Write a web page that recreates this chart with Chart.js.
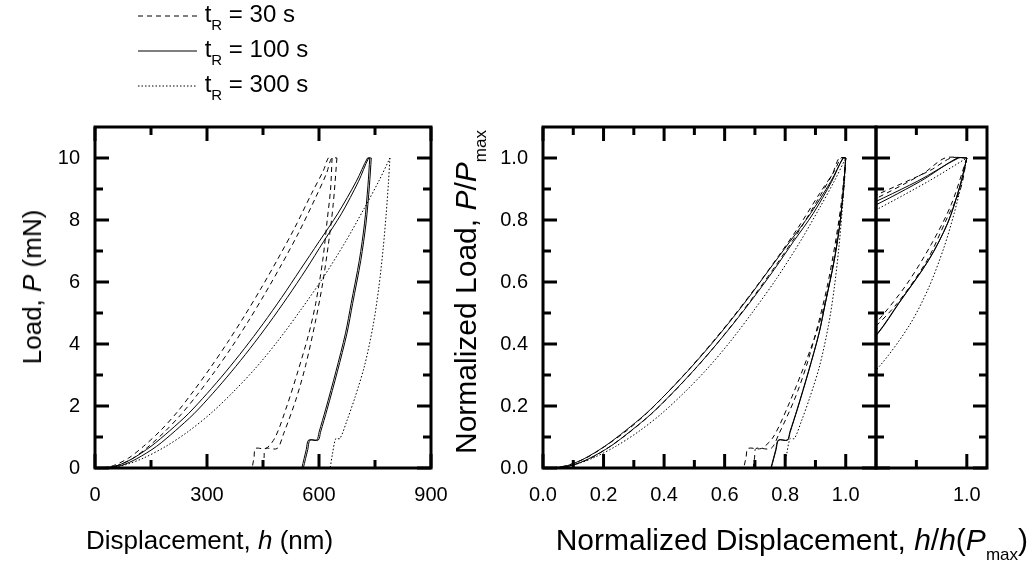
<!DOCTYPE html>
<html>
<head>
<meta charset="utf-8">
<script src="https://cdn.jsdelivr.net/npm/chart.js@4.4.0/dist/chart.umd.min.js"></script>
<style>
  body { margin: 0; background: #fff; width: 1034px; height: 564px; position: relative; overflow: hidden;
         font-family: "Liberation Sans", Arial, sans-serif; color: #000; }
  canvas { position: absolute; left: 0; top: 0; }
  .t { position: absolute; white-space: nowrap; font-size: 26px; line-height: 1; }
  .sub { font-size: 15px; position: relative; top: 9px; }
  .rot { transform: translate(-50%, -50%) rotate(-90deg); }
  .leg { position: absolute; left: 138px; font-size: 24px; line-height: 1; white-space: nowrap; }
  .leg svg { vertical-align: middle; }
  .leg .sub { font-size: 15px; top: 8px; }
</style>
</head>
<body>
<canvas id="cAbs" width="1034" height="564"></canvas>
<canvas id="cNorm" width="1034" height="564"></canvas>
<canvas id="cZoom" width="1034" height="564"></canvas>

<div class="leg" style="top:2px"><svg width="60" height="24"><line x1="0" y1="12" x2="59" y2="12" stroke="#000" stroke-width="1" stroke-dasharray="5,4"/></svg> t<span class="sub">R</span> = 30 s</div>
<div class="leg" style="top:37px"><svg width="60" height="24"><line x1="0" y1="12" x2="59" y2="12" stroke="#000" stroke-width="1"/></svg> t<span class="sub">R</span> = 100 s</div>
<div class="leg" style="top:72px"><svg width="60" height="24"><line x1="0" y1="12" x2="59" y2="12" stroke="#000" stroke-width="1" stroke-dasharray="1.5,2"/></svg> t<span class="sub">R</span> = 300 s</div>

<div class="t" style="left:86px;top:527px">Displacement, <i>h</i> (nm)</div>
<div class="t rot" style="left:32px;top:287px">Load, <i>P</i> (mN)</div>
<div class="t rot" style="left:466px;top:292px;font-size:30px">Normalized Load, <i>P</i>/<i>P</i><span class="sub" style="font-size:17px;top:10px">max</span></div>
<div class="t" style="right:6px;top:525px;font-size:30px">Normalized Displacement, <i>h</i>/<i>h</i>(<i>P</i><span class="sub" style="font-size:17px;top:10px">max</span>)</div>

<script>
// h in nm, P in mN, two runs for 30 s and 100 s, one for 300 s
var h30a_load = [20, 50, 90, 130, 175, 220, 265, 310, 355, 400, 445, 490, 535, 580, 612, 625, 635];
var p30a_load = [0, 0.08, 0.32, 0.7, 1.2, 1.8, 2.5, 3.25, 4.05, 4.9, 5.8, 6.75, 7.75, 8.85, 9.6, 10, 10];
var h30a_unload = [635, 631, 622, 610, 591, 572, 543, 514, 483, 458, 430, 426, 421];
var p30a_unload = [10, 9.0, 8.0, 6.7, 5.3, 4.3, 3.1, 2.0, 1.0, 0.63, 0.63, 0.35, 0];

var h30b_load = [30, 60, 100, 140, 185, 230, 275, 320, 365, 410, 455, 500, 545, 590, 620, 634, 648];
var p30b_load = [0, 0.08, 0.3, 0.66, 1.15, 1.72, 2.38, 3.1, 3.88, 4.72, 5.62, 6.57, 7.58, 8.7, 9.5, 10, 10];
var h30b_unload = [648, 638, 625, 609, 590, 564, 538, 505, 488, 456, 453, 450];
var p30b_unload = [10, 8.5, 7.2, 5.9, 4.7, 3.3, 2.2, 1.1, 0.63, 0.63, 0.35, 0];

var h100a_load = [22, 60, 100, 150, 200, 250, 300, 350, 400, 450, 500, 550, 600, 650, 700, 730, 736];
var p100a_load = [0, 0.08, 0.3, 0.7, 1.2, 1.75, 2.4, 3.1, 3.85, 4.65, 5.5, 6.4, 7.3, 8.2, 9.25, 10, 10];
var h100a_unload = [736, 731, 722, 708, 686, 671, 645, 618, 600, 594, 572, 566, 560, 554];
var p100a_unload = [10, 9.1, 7.9, 6.7, 5.3, 4.35, 3.1, 1.9, 1.15, 0.9, 0.9, 0.6, 0.3, 0];

var h100b_load = [30, 70, 112, 165, 215, 265, 315, 365, 415, 465, 515, 565, 612, 660, 706, 733, 740];
var p100b_load = [0, 0.08, 0.3, 0.7, 1.2, 1.75, 2.4, 3.1, 3.85, 4.65, 5.5, 6.4, 7.3, 8.2, 9.25, 10, 10];
var h100b_unload = [740, 735, 726, 712, 690, 675, 649, 622, 604, 598, 576, 570, 564, 558];
var p100b_unload = [10, 9.1, 7.9, 6.7, 5.3, 4.35, 3.1, 1.9, 1.15, 0.9, 0.9, 0.6, 0.3, 0];

var h300_load = [35, 80, 130, 190, 250, 310, 370, 430, 490, 550, 610, 670, 720, 760, 790];
var p300_load = [0, 0.1, 0.32, 0.7, 1.18, 1.76, 2.45, 3.22, 4.1, 5.08, 6.12, 7.28, 8.35, 9.25, 10];
var h300_unload = [790, 786, 780, 772, 760, 745, 722, 697, 674, 656, 645, 636, 630];
var p300_unload = [10, 9.2, 8.2, 7.1, 5.8, 4.6, 3.3, 2.3, 1.5, 0.95, 0.95, 0.45, 0];

var absXTicks = [0, 300, 600, 900];
var absYTicks = [0, 2, 4, 6, 8, 10];
var normXTicks = [0, 0.2, 0.4, 0.6, 0.8, 1.0];
var normYTicks = [0, 0.2, 0.4, 0.6, 0.8, 1.0];
var zoomXTicks = [1.0];

var FONT = '"Liberation Sans", Arial, sans-serif';
var DASH30 = [5, 4], DASH300 = [1.5, 2];

function pts(hs, ps, hRef, pRef) {
  return hs.map(function (h, i) { return { x: h / hRef, y: ps[i] / pRef }; });
}

function runs(normalized) {
  var list = [
    [h30a_load, p30a_load, h30a_unload, p30a_unload, DASH30],
    [h30b_load, p30b_load, h30b_unload, p30b_unload, DASH30],
    [h100a_load, p100a_load, h100a_unload, p100a_unload, []],
    [h100b_load, p100b_load, h100b_unload, p100b_unload, []],
    [h300_load, p300_load, h300_unload, p300_unload, DASH300]
  ];
  var out = [];
  list.forEach(function (r) {
    // normalize by the displacement where unloading starts and the peak load
    var hRef = normalized ? r[2][0] : 1;
    var pRef = normalized ? r[3][0] : 1;
    out.push({ data: pts(r[0], r[1], hRef, pRef), borderDash: r[4] });
    out.push({ data: pts(r[2], r[3], hRef, pRef), borderDash: r[4] });
  });
  out.forEach(function (d) {
    d.showLine = true; d.borderColor = '#000'; d.borderWidth = 1; d.pointRadius = 0;
    d.tension = 0.3; d.fill = false;
  });
  return out;
}

// frame and inward ticks on all four sides, major + minor
var frameTicks = {
  id: 'frameTicks',
  afterDatasetsDraw: function (chart, args, o) {
    var ctx = chart.ctx, a = chart.chartArea, sx = chart.scales.x, sy = chart.scales.y;
    ctx.save();
    ctx.strokeStyle = '#000';
    ctx.lineWidth = 3;
    function seg(x1, y1, x2, y2) { ctx.beginPath(); ctx.moveTo(x1, y1); ctx.lineTo(x2, y2); ctx.stroke(); }
    o.xMajor.forEach(function (v) { var p = sx.getPixelForValue(v); seg(p, a.bottom, p, a.bottom - 14); seg(p, a.top, p, a.top + 14); });
    o.xMinor.forEach(function (v) { var p = sx.getPixelForValue(v); seg(p, a.bottom, p, a.bottom - 8); seg(p, a.top, p, a.top + 8); });
    o.yMajor.forEach(function (v) { var p = sy.getPixelForValue(v); seg(a.left, p, a.left + 14, p); seg(a.right, p, a.right - 14, p); });
    o.yMinor.forEach(function (v) { var p = sy.getPixelForValue(v); seg(a.left, p, a.left + 8, p); seg(a.right, p, a.right - 8, p); });
    ctx.strokeRect(a.left, a.top, a.right - a.left, a.bottom - a.top);
    ctx.restore();
  }
};

function axis(min, max, step, width, height, fmt, show, ticksAt) {
  return {
    type: 'linear', min: min, max: max, display: show,
    grid: { display: false, drawTicks: false }, border: { display: false },
    ticks: {
      stepSize: step, includeBounds: false, padding: 15, color: '#000',
      font: { family: FONT, size: 20 },
      callback: function (v) { return fmt(v); }
    },
    afterBuildTicks: ticksAt ? function (s) { s.ticks = ticksAt.map(function (v) { return { value: v }; }); } : undefined,
    afterFit: function (s) { if (width !== null) s.width = width; if (height !== null) s.height = height; }
  };
}

function base(pad, xs, ys, ticks) {
  return {
    responsive: false, animation: false,
    layout: { padding: pad },
    plugins: { legend: { display: false }, tooltip: { enabled: false }, frameTicks: ticks },
    scales: { x: xs, y: ys }
  };
}

var intFmt = function (v) { return String(Math.round(v)); };
var decFmt = function (v) { return v.toFixed(1); };

new Chart(document.getElementById('cAbs'), {
  type: 'scatter',
  data: { datasets: runs(false) },
  options: base({ left: 0, right: 603, top: 127, bottom: 0 },
    axis(0, 900, 300, null, 96, intFmt, true, absXTicks),
    axis(0, 11, 2, 95, null, intFmt, true, absYTicks),
    { xMajor: absXTicks, xMinor: [150, 450, 750], yMajor: absYTicks, yMinor: [1, 3, 5, 7, 9] }),
  plugins: [frameTicks]
});

new Chart(document.getElementById('cNorm'), {
  type: 'scatter',
  data: { datasets: runs(true) },
  options: base({ left: 443, right: 158, top: 127, bottom: 0 },
    axis(0, 1.1, 0.2, null, 96, decFmt, true, normXTicks),
    axis(0, 1.1, 0.2, 100, null, decFmt, true, normYTicks),
    { xMajor: normXTicks, xMinor: [0.1, 0.3, 0.5, 0.7, 0.9], yMajor: normYTicks, yMinor: [0.1, 0.3, 0.5, 0.7, 0.9] }),
  plugins: [frameTicks]
});

new Chart(document.getElementById('cZoom'), {
  type: 'scatter',
  data: { datasets: runs(true) },
  options: base({ left: 876, right: 47, top: 127, bottom: 0 },
    axis(0.91, 1.02, 0.05, null, 96, decFmt, true, zoomXTicks),
    axis(0, 1.1, 0.2, null, null, decFmt, false, normYTicks),
    { xMajor: zoomXTicks, xMinor: [0.95], yMajor: normYTicks, yMinor: [0.1, 0.3, 0.5, 0.7, 0.9] }),
  plugins: [frameTicks]
});
</script>
</body>
</html>
